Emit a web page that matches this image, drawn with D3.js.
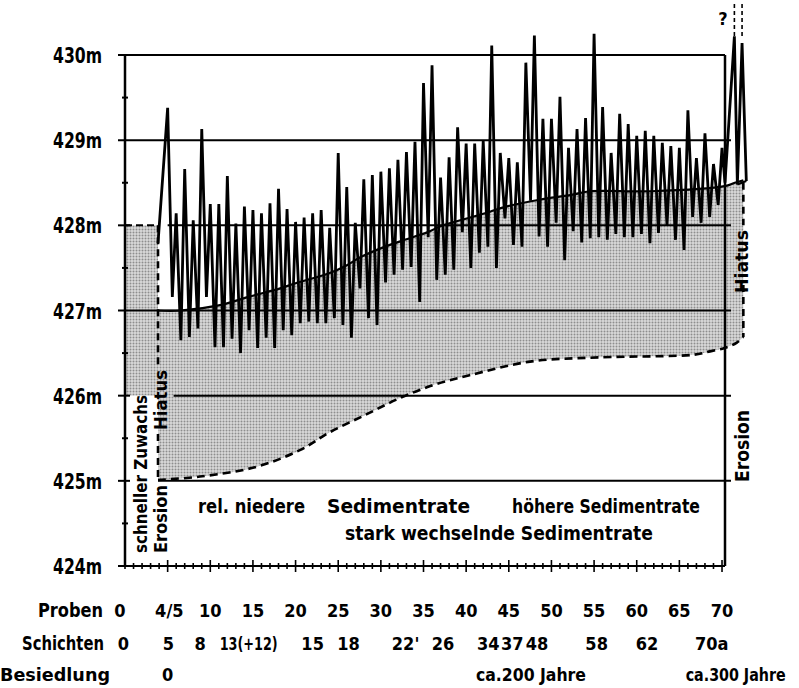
<!DOCTYPE html>
<html><head><meta charset="utf-8">
<script src="https://cdn.jsdelivr.net/npm/d3@7"></script>
<style>
body{margin:0;background:#fff}
text{font-family:"DejaVu Sans Condensed","DejaVu Sans",sans-serif;fill:#000;font-weight:bold}
</style>
</head><body>
<svg id="c" width="799" height="688"></svg>
<script>
// ---------- data ----------
const levels = [424, 425, 426, 427, 428, 429, 430];
const levelLabels = ["424m", "425m", "426m", "427m", "428m", "429m", "430m"];
const firstSample = 5;
// peak elevation (m) of every sample 5 .. 70
const peaks = [429.38, 428.14, 428.66, 428.06, 429.13, 428.25, 428.25, 428.58, 428.02, 428.22,
  428.18, 428.14, 428.26, 428.43, 428.19, 428.04, 428.09, 428.14, 428.18, 427.97,
  428.85, 428.45, 428.03, 428.54, 428.59, 428.63, 428.67, 428.77, 428.86, 428.98,
  429.67, 429.88, 428.56, 428.80, 429.15, 428.96, 428.96, 428.99, 430.11, 428.85,
  428.79, 428.74, 429.91, 430.23, 429.25, 429.25, 429.51, 428.91, 429.13, 429.26,
  430.25, 429.39, 428.85, 429.31, 429.19, 429.05, 429.11, 429.05, 428.97, 428.93,
  428.91, 429.35, 428.79, 429.08, 428.72, 428.91];
// trough elevation (m) following samples 5 .. 69
const troughs = [427.16, 426.65, 426.69, 426.79, 427.16, 426.57, 426.57, 426.67, 426.50, 426.77,
  426.56, 426.68, 426.56, 426.77, 426.71, 426.85, 426.87, 426.85, 426.85, 426.91,
  426.83, 426.68, 427.26, 426.91, 426.83, 427.33, 427.42, 427.48, 427.51, 427.10,
  427.86, 427.36, 427.42, 427.48, 427.92, 427.50, 427.68, 427.75, 427.50, 428.08,
  427.77, 427.75, 428.29, 427.87, 427.75, 428.03, 427.59, 427.93, 427.80, 427.85,
  427.86, 427.83, 427.90, 427.86, 427.86, 427.90, 427.79, 427.91, 428.00, 427.83,
  427.71, 428.10, 428.03, 428.10, 428.24];
const startPoint = [3.87, 427.79];
// beyond the right axis (uncertain top)
const extSamples = [70.35, 71.45, 71.8, 72.35, 72.85];
const extLevels = [428.50, 430.22, 428.48, 430.14, 428.52];
// upper surface of the preserved sediment (shaded top)
const floorSamples = [3.87, 6.5, 11, 14.5, 18.2, 20, 24, 25.8, 27.7, 30.5, 32.8, 35.5, 37, 40.8, 42.8, 44.7, 48.6, 52.5, 54.5, 61.7, 70.3, 71.5, 72.5];
const floorLevels = [427.0, 427.0, 427.06, 427.16, 427.26, 427.32, 427.44, 427.52, 427.63, 427.75, 427.83, 427.92, 427.99, 428.1, 428.16, 428.22, 428.3, 428.36, 428.4, 428.4, 428.46, 428.5, 428.53];
// lower (erosion) boundary, dashed
const baseSamples = [3.87, 8.79, 15.24, 20.5, 24.0, 28.1, 32.2, 36.3, 40.4, 47.5, 55.7, 66.6, 68.6, 70.3, 71.7, 72.5];
const baseLevels = [425.01, 425.05, 425.16, 425.36, 425.57, 425.77, 425.97, 426.13, 426.24, 426.4, 426.45, 426.48, 426.52, 426.56, 426.62, 426.69];
// left block (schneller Zuwachs)
const blockTop = 428, blockBottom = 426;
// bottom label rows
const probenLabels = ["0", "4/5", "10", "15", "20", "25", "30", "35", "40", "45", "50", "55", "60", "65", "70"];
const probenPos = [-0.6, 5.2, 10, 15, 20, 25, 30, 35, 40, 45, 50, 55, 60, 65, 70];
const schichtenLabels = ["0", "5", "8", "13(+12)", "15", "18", "22'", "26", "34", "37", "48", "58", "62", "70a"];
const schichtenPos = [-0.2, 5.1, 8.8, 14.5, 22, 26.2, 32.9, 37.3, 42.6, 45.4, 48.3, 55.3, 61.2, 68.8];
const besiedlungLabels = ["0", "ca.200 Jahre", "ca.300 Jahre"];
const besiedlungPos = [5, 47.6, 71.6];

// ---------- scales ----------
const svg = d3.select("#c");
const x = d3.scaleLinear().domain([0, 70.35]).range([125, 725]);
const y = d3.scaleLinear().domain([424, 430]).range([566, 55]);
const X0 = x(0), X1 = x(70.35);

// pattern for stippled shading
const defs = svg.append("defs");
const pat = defs.append("pattern").attr("id", "dots").attr("width", 3).attr("height", 3).attr("patternUnits", "userSpaceOnUse");
pat.append("rect").attr("width", 3).attr("height", 3).attr("fill", "#dadada");
pat.append("circle").attr("cx", 1.5).attr("cy", 1.5).attr("r", 1.0).attr("fill", "#8e8e8e");

const floorPts = floorSamples.map((s, i) => [s, floorLevels[i]]);
const basePts = baseSamples.map((s, i) => [s, baseLevels[i]]);
const ln = d3.line().x(d => x(d[0])).y(d => y(d[1]));
const lnCurve = d3.line().x(d => x(d[0])).y(d => y(d[1])).curve(d3.curveCatmullRom.alpha(0.5));

// shading
const fp = lnCurve(floorPts);
const bp = lnCurve(basePts.slice().reverse());
svg.append("path").attr("d", fp + "L" + bp.substring(1) + "Z").attr("fill", "url(#dots)");
svg.append("rect").attr("x", X0).attr("y", y(blockTop)).attr("width", x(floorSamples[0]) - X0)
  .attr("height", y(blockBottom) - y(blockTop)).attr("fill", "url(#dots)");

// horizontal level lines
const g = svg.append("g").attr("stroke", "#000").attr("stroke-width", 2).attr("fill", "none");
const hStart = {430: X0 - 7, 429: X0 - 7, 428: x(5), 427: X0 - 7, 426: x(5.7), 425: x(floorSamples[0]), 424: X0 - 7};
const hEnd = {430: X1, 429: X1 + 6, 428: X1 + 6, 427: X1 + 6, 426: X1 + 6, 425: X1 + 6, 424: X1};
levels.forEach(l => {
  g.append("line").attr("x1", hStart[l]).attr("x2", hEnd[l]).attr("y1", y(l)).attr("y2", y(l));
});
[428, 426, 425].forEach(l => g.append("line").attr("x1", X0 - 7).attr("x2", X0 + 5).attr("y1", y(l)).attr("y2", y(l)));
g.append("line").attr("x1", X0).attr("x2", x(floorSamples[0])).attr("y1", y(blockTop)).attr("y2", y(blockTop))
  .attr("stroke-dasharray", "7,4");
// axes
g.append("line").attr("x1", X0).attr("x2", X0).attr("y1", y(430)).attr("y2", y(424)).attr("stroke-width", 2.5);
g.append("line").attr("x1", X1).attr("x2", X1).attr("y1", y(430)).attr("y2", y(424)).attr("stroke-width", 2.5);
[424.5, 425.5, 426.5, 427.5, 428.5, 429.5].forEach(l =>
  g.append("line").attr("x1", X0 - 3).attr("x2", X0 + 3).attr("y1", y(l)).attr("y2", y(l)));
d3.range(0, 71).forEach(n => {
  const big = n % 5 === 0 && n > 0;
  g.append("line").attr("x1", x(n)).attr("x2", x(n)).attr("y1", y(424) - (big ? 6 : 3)).attr("y2", y(424) + (big ? 6 : 3))
    .attr("stroke-width", 1.6);
});

// floor line
svg.append("path").attr("d", lnCurve(floorPts)).attr("fill", "none").attr("stroke", "#000").attr("stroke-width", 2.2);

// dashed lower boundary
svg.append("path").attr("d", lnCurve(basePts)).attr("fill", "none").attr("stroke", "#000")
  .attr("stroke-width", 2.6).attr("stroke-dasharray", "8,5");
const dash = (s, a, b) => svg.append("line").attr("x1", x(s)).attr("x2", x(s)).attr("y1", y(a)).attr("y2", y(b))
  .attr("stroke", "#000").attr("stroke-width", 2.6).attr("stroke-dasharray", "7,5");
dash(floorSamples[0], 428, 426.35);
dash(floorSamples[0], 425.55, 425.0);
dash(72.5, 428.5, 428.0);
dash(72.5, 427.3, 426.69);
[71.45, 72.35].forEach(s => svg.append("line").attr("x1", x(s)).attr("x2", x(s)).attr("y1", y(430.6)).attr("y2", y(430.22))
  .attr("stroke", "#000").attr("stroke-width", 1.6).attr("stroke-dasharray", "4,3"));

// zigzag
const zig = [startPoint];
peaks.forEach((p, i) => {
  const n = firstSample + i;
  zig.push([n, p]);
  if (i < troughs.length) zig.push([n + 0.55, troughs[i]]);
});
extSamples.forEach((s, i) => zig.push([s, extLevels[i]]));
svg.append("path").attr("d", ln(zig)).attr("fill", "none").attr("stroke", "#000")
  .attr("stroke-width", 2.8).attr("stroke-linejoin", "miter").attr("stroke-miterlimit", 3);
svg.append("line").attr("x1", x(71.8)).attr("x2", x(72.85)).attr("y1", y(428.48)).attr("y2", y(428.52))
  .attr("stroke", "#000").attr("stroke-width", 2);

// ---------- texts ----------
const fit = (sel, w) => sel.attr("textLength", w).attr("lengthAdjust", "spacingAndGlyphs");
levels.forEach((l, i) => fit(svg.append("text").attr("x", 102).attr("y", y(l) + 8).attr("text-anchor", "end")
  .attr("font-size", 21).text(levelLabels[i]), 49));

const rot = (txt, bx, by, size, w) => fit(svg.append("text").attr("transform", `translate(${bx},${by}) rotate(-90)`)
  .attr("font-size", size).text(txt), w);
rot("schneller Zuwachs", 147, 553, 18, 158);
rot("Erosion", 167, 553, 18, 68);
rot("Hiatus", 167, 430, 17, 60);
rot("Hiatus", 748, 293, 17, 63);
rot("Erosion", 749, 482, 19, 72);
svg.append("text").attr("x", 723).attr("y", 25).attr("text-anchor", "middle").attr("font-size", 18).text("?");

const mid = (txt, tx, ty, w) => fit(svg.append("text").attr("x", tx).attr("y", ty).attr("font-size", 19).text(txt), w);
mid("rel. niedere", 198, 513, 107);
mid("Sedimentrate", 327, 513, 143);
mid("höhere Sedimentrate", 512, 513, 188);
mid("stark wechselnde Sedimentrate", 345, 540, 308);

const rowTitle = (txt, tx, ty, w, fs) => fit(svg.append("text").attr("x", tx).attr("y", ty).attr("font-size", fs).text(txt), w);
rowTitle("Proben", 38, 617, 65, 19);
rowTitle("Schichten", 22, 650, 82, 19);
rowTitle("Besiedlung", 0, 681, 110, 18);
probenLabels.forEach((t, i) => svg.append("text").attr("x", x(probenPos[i])).attr("y", 617).attr("text-anchor", "middle")
  .attr("font-size", 18).text(t));
schichtenLabels.forEach((t, i) => {
  const s = svg.append("text").attr("x", x(schichtenPos[i])).attr("y", 650).attr("text-anchor", "middle")
    .attr("font-size", 18).text(t);
  if (t === "13(+12)") fit(s, 58);
});
const besW = [null, 110, 100];
besiedlungLabels.forEach((t, i) => {
  const s = svg.append("text").attr("x", x(besiedlungPos[i])).attr("y", 681).attr("text-anchor", "middle")
    .attr("font-size", 18).text(t);
  if (besW[i]) fit(s, besW[i]);
});
</script>
</body></html>
